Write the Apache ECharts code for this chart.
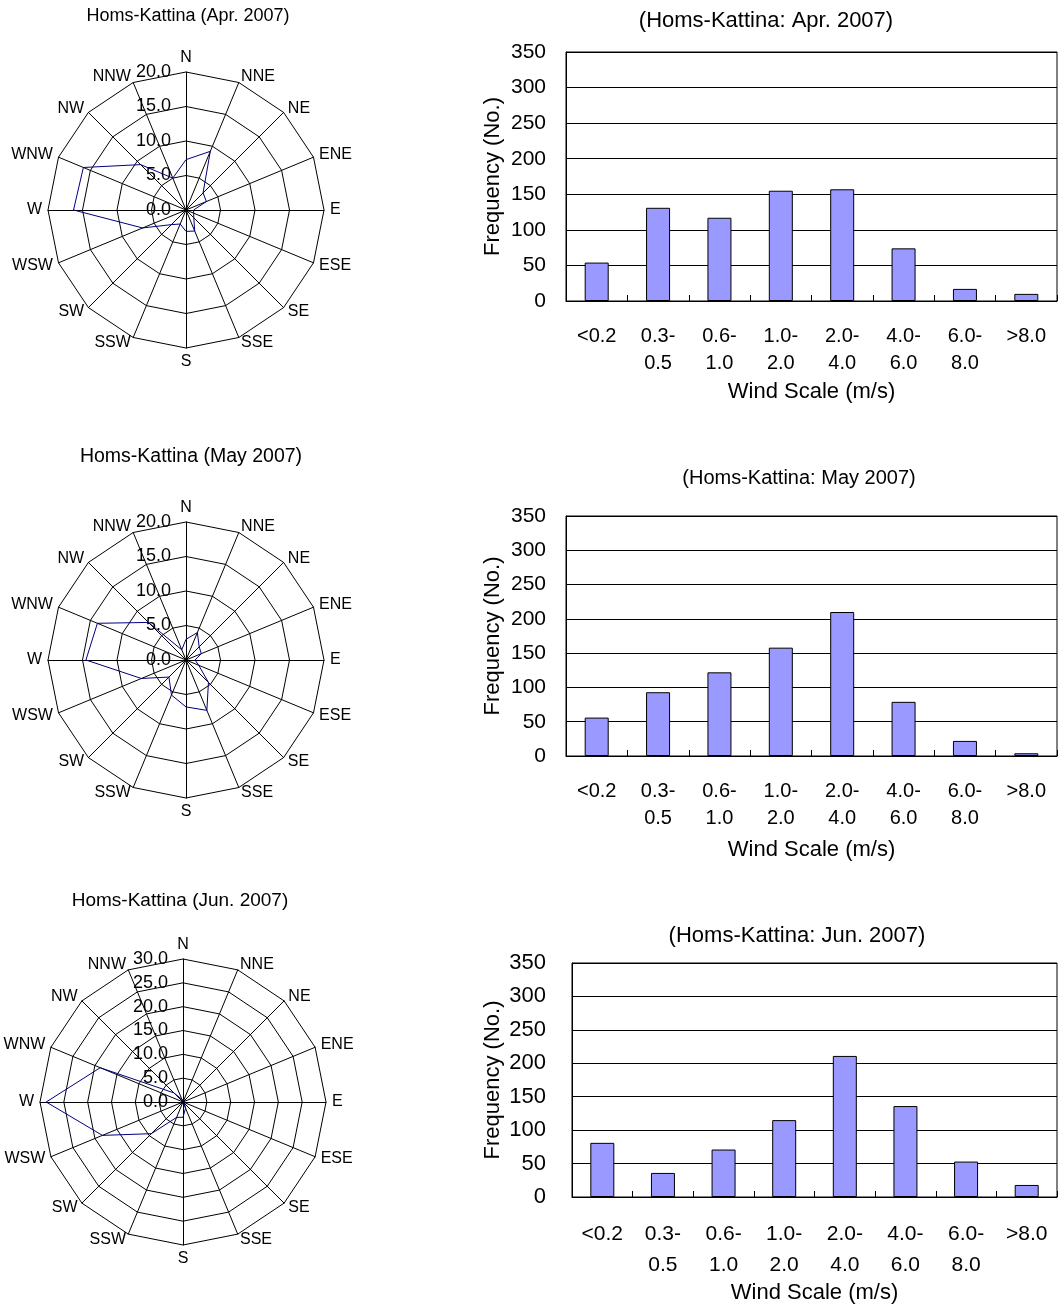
<!DOCTYPE html>
<html>
<head>
<meta charset="utf-8">
<script src="https://cdn.jsdelivr.net/npm/echarts@6/dist/echarts.min.js"></script>
<style>
html,body{margin:0;padding:0;background:#fff;}
#main{width:1059px;height:1307px;}
</style>
</head>
<body>
<div id="main"></div>
<script>
// ---- data ----
const directions = ['N','NNE','NE','ENE','E','ESE','SE','SSE','S','SSW','SW','WSW','W','WNW','NW','NNW'];
const windApr = [7.3, 9.2, 3.5, 3.2, 1.1, 1.2, 1.6, 3.3, 3.1, 2.2, 3.0, 6.8, 16.3, 16.1, 9.3, 5.0];
const windMay = [3.0, 4.3, 2.7, 2.4, 1.3, 2.0, 4.6, 7.9, 6.8, 5.5, 3.5, 7.0, 14.5, 13.9, 7.7, 1.6];
const windJun = [0.4, 0.3, 0.3, 0.3, 0.4, 0.3, 0.4, 1.4, 3.2, 3.5, 9.4, 18.3, 28.7, 18.8, 2.7, 0.6];
const radarMax = [20, 20, 30];
const radarSplit = [4, 4, 6];
const radarTitles = ['Homs-Kattina (Apr. 2007)', 'Homs-Kattina (May 2007)', 'Homs-Kattina (Jun. 2007)'];

const scaleCats = ['<0.2','0.3-\n0.5','0.6-\n1.0','1.0-\n2.0','2.0-\n4.0','4.0-\n6.0','6.0-\n8.0','>8.0'];
const freqApr = [54, 131, 117, 155, 157, 74, 17, 10];
const freqMay = [56, 93, 122, 158, 210, 79, 22, 4];
const freqJun = [81, 36, 71, 115, 211, 136, 53, 18];
const freqMax = 350;
const freqInterval = 50;
const barTitles = ['(Homs-Kattina: Apr. 2007)', '(Homs-Kattina: May 2007)', '(Homs-Kattina: Jun. 2007)'];

// ---- layout ----
const FONT = 'Liberation Sans, Arial, sans-serif';
const radarLayout = [
  {center:[186,210], radius:138, titleX:188, titleY:7, tsize:18},
  {center:[186,660], radius:138, titleX:191, titleY:447, tsize:19.5},
  {center:[183,1102], radius:143, titleX:180, titleY:891, tsize:19}
];
const gridLayout = [
  {left:566, top:52, width:491, height:249, titleX:766, titleY:10, tsizeTitle:22, font:20, tfont:21, lh:27, xGap:80, yGap:62, yMargin:20},
  {left:566, top:516, width:491, height:240, titleX:799, titleY:468, tsizeTitle:20, font:20, tfont:21, lh:27, xGap:83, yGap:62, yMargin:20},
  {left:572, top:963, width:485, height:234, titleX:797, titleY:925, tsizeTitle:22, font:21, tfont:22, lh:31, xGap:81, yGap:68, yMargin:26}
];

// ECharts radar places indicators counter-clockwise; reorder compass (clockwise) lists.
function ccw(arr){ return [arr[0]].concat(arr.slice(1).reverse()); }

const windSets = [windApr, windMay, windJun];
const freqSets = [freqApr, freqMay, freqJun];

const titles = [];
const radars = [];
const series = [];
const grids = [];
const xAxes = [];
const yAxes = [];

for (let i = 0; i < 3; i++) {
  const rl = radarLayout[i];
  titles.push({
    text: radarTitles[i], left: rl.titleX, top: rl.titleY, textAlign: 'center', padding: 0,
    textStyle: {fontFamily: FONT, fontSize: rl.tsize, fontWeight: 'normal', color: '#000'}
  });
  const names = ccw(directions);
  radars.push({
    center: rl.center, radius: rl.radius, startAngle: 90, shape: 'polygon',
    splitNumber: radarSplit[i],
    nameGap: 6,
    axisName: {color: '#000', fontSize: 16, fontFamily: FONT},
    splitLine: {lineStyle: {color: '#000', width: 1}},
    splitArea: {show: false},
    axisLine: {lineStyle: {color: '#000', width: 1}},
    axisTick: {show: false},
    axisLabel: {show: false},
    indicator: names.map((n, k) => {
      const ind = {name: n, min: 0, max: radarMax[i]};
      if (k === 0) {
        ind.axisLabel = {show: true, color: '#000', fontSize: 18, fontFamily: FONT, margin: 15,
          formatter: v => Number(v).toFixed(1)};
      }
      return ind;
    })
  });
  series.push({
    type: 'radar', radarIndex: i, symbol: 'none', silent: true,
    lineStyle: {color: '#000080', width: 1},
    data: [{value: ccw(windSets[i])}]
  });

  const gl = gridLayout[i];
  titles.push({
    text: barTitles[i], left: gl.titleX, top: gl.titleY, textAlign: 'center', padding: 0,
    textStyle: {fontFamily: FONT, fontSize: gl.tsizeTitle, fontWeight: 'normal', color: '#000'}
  });
  grids.push({left: gl.left, top: gl.top, width: gl.width, height: gl.height,
    show: true, borderColor: '#000', borderWidth: 1, backgroundColor: 'transparent'});
  xAxes.push({
    type: 'category', gridIndex: i, data: scaleCats,
    axisLine: {lineStyle: {color: '#000', width: 1}},
    axisTick: {show: true, inside: true, length: 6, lineStyle: {color: '#000'}},
    axisLabel: {color: '#000', fontSize: gl.font, lineHeight: gl.lh, fontFamily: FONT, margin: 22, interval: 0},
    name: 'Wind Scale (m/s)', nameLocation: 'middle', nameGap: gl.xGap,
    nameTextStyle: {color: '#000', fontSize: 22, fontFamily: FONT}
  });
  yAxes.push({
    type: 'value', gridIndex: i, min: 0, max: freqMax, interval: freqInterval,
    axisLine: {show: true, lineStyle: {color: '#000'}},
    axisTick: {show: false},
    splitLine: {show: true, lineStyle: {color: '#000', width: 1}},
    axisLabel: {color: '#000', fontSize: gl.tfont, fontFamily: FONT, margin: gl.yMargin},
    name: 'Frequency (No.)', nameLocation: 'middle', nameGap: gl.yGap,
    nameTextStyle: {color: '#000', fontSize: 22, fontFamily: FONT}
  });
  series.push({
    type: 'bar', xAxisIndex: i, yAxisIndex: i, barWidth: 24, silent: true,
    itemStyle: {color: '#9999FF', borderColor: '#000', borderWidth: 1},
    data: freqSets[i]
  });
}

const chart = echarts.init(document.getElementById('main'), null, {renderer: 'canvas'});
chart.setOption({
  backgroundColor: '#fff',
  animation: false,
  title: titles,
  radar: radars,
  grid: grids,
  xAxis: xAxes,
  yAxis: yAxes,
  series: series
});
</script>
</body>
</html>
